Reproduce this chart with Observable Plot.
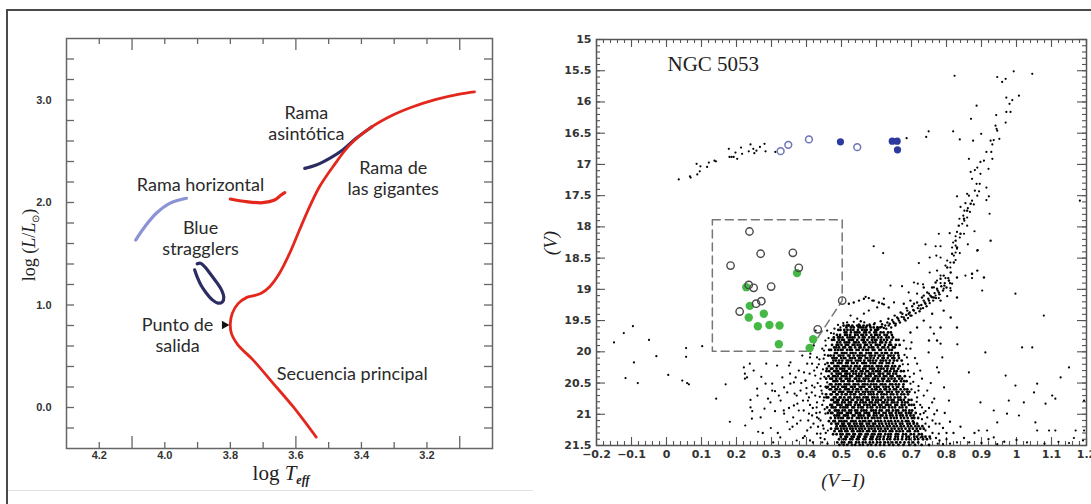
<!DOCTYPE html>
<html><head><meta charset="utf-8">
<script src="https://cdn.jsdelivr.net/npm/d3@7"></script>
<script src="https://cdn.jsdelivr.net/npm/@observablehq/plot@0.6"></script>
<style>
html,body{margin:0;padding:0;background:#fff;}
body{width:1091px;height:504px;position:relative;overflow:hidden;}
#hr{position:absolute;left:0;top:0;width:540px;height:504px;}
#cmd{position:absolute;left:540px;top:0;width:551px;height:504px;}
.rule{position:absolute;background:#4a4a4a;}
</style></head>
<body>
<div id="hr"></div><div id="cmd"></div>
<div class="rule" style="left:6px;top:9px;width:1085px;height:2px"></div>
<div class="rule" style="left:6px;top:9px;width:2px;height:495px"></div>
<div class="rule" style="left:8px;top:490px;width:525px;height:1px;background:#e2e2e2"></div>
<script>
// ================= LEFT PANEL (HR diagram) =================
const hrXLabels = [4.2, 4.0, 3.8, 3.6, 3.4, 3.2];
const hrYLabels = [0.0, 1.0, 2.0, 3.0];
const hrXShortTicks = [4.2, 4.0, 3.9, 3.8, 3.7, 3.5, 3.4, 3.3, 3.2];
const hrXLongTicks = [4.1, 3.6, 3.1];
const hrYTicks = [-0.2, 0, 0.2, 0.4, 0.6, 0.8, 1.0, 1.2, 1.4, 1.6, 1.8, 2.0, 2.2, 2.4, 2.6, 2.8, 3.0, 3.2, 3.4];

const rgLogT = [3.538,3.609,3.670,3.731,3.777,3.797,3.800,3.794,3.777,3.751,3.731,3.706,3.680,3.650,3.619,3.589,3.558,3.528,3.487,3.436,3.375,3.304,3.243,3.172,3.101,3.055];
const rgLogL = [-0.289,0.010,0.238,0.465,0.611,0.725,0.822,0.920,1.011,1.072,1.089,1.115,1.179,1.310,1.505,1.732,1.959,2.154,2.349,2.560,2.723,2.853,2.934,3.006,3.058,3.080];
const hbRedLogT = [3.800,3.751,3.701,3.665,3.645,3.634];
const hbRedLogL = [2.034,2.008,1.998,2.024,2.073,2.096];
const hbBlueLogT = [4.089,4.061,4.026,3.985,3.934];
const hbBlueLogL = [1.634,1.764,1.895,1.992,2.041];
const agbLogT = [3.573,3.538,3.497,3.457,3.416,3.368];
const agbLogL = [2.333,2.366,2.431,2.512,2.626,2.739];
const bsLogT = [3.909,3.901,3.889,3.873,3.855,3.838,3.824,3.820,3.826,3.840,3.858,3.877,3.891,3.901];
const bsLogL = [1.343,1.271,1.190,1.115,1.051,1.018,1.031,1.076,1.141,1.213,1.291,1.369,1.408,1.402];

const hrLabels = ["Rama\nasintótica", "Rama de\nlas gigantes", "Rama horizontal", "Blue\nstragglers", "Punto de\nsalida", "Secuencia principal"];
const hrLabelT = [3.568, 3.303, 3.891, 3.891, 3.961, 3.428];
const hrLabelL = [2.776, 2.244, 2.182, 1.659, 0.707, 0.329];
const turnoffT = [3.818];
const turnoffL = [0.805];

const RED = "#e4271d", NAVY = "#2b2c62", LIGHT = "#8b92d6";
const tickStyle = {stroke: "#666", strokeWidth: 1.3};

const hr = Plot.plot({
  width: 540, height: 504,
  marginLeft: 66, marginRight: 48, marginTop: 38, marginBottom: 56,
  style: {background: "none", fontFamily: "Liberation Sans", fontSize: "11px", color: "#333", overflow: "visible"},
  x: {domain: [4.3, 3.0]},
  y: {domain: [-0.4, 3.6]},
  marks: [
    Plot.ruleX(hrXShortTicks, {...tickStyle, insetTop: 404}),
    Plot.ruleX(hrXShortTicks, {...tickStyle, insetBottom: 404}),
    Plot.ruleX(hrXLongTicks, {...tickStyle, insetTop: 398}),
    Plot.ruleX(hrXLongTicks, {...tickStyle, insetBottom: 398}),
    Plot.ruleY(hrYTicks, {...tickStyle, insetRight: 418}),
    Plot.ruleY(hrYTicks, {...tickStyle, insetLeft: 418}),
    Plot.frame({stroke: "#666", strokeWidth: 1.5}),
    Plot.axisX(hrXLabels, {tickSize: 0, tickPadding: 3, tickFormat: d3.format(".1f"), fontWeight: "bold", fontSize: 11, fill: "#333", label: null}),
    Plot.axisY(hrYLabels, {tickSize: 0, tickPadding: 15, tickFormat: d3.format(".1f"), fontWeight: "bold", fontSize: 11, fill: "#333", label: null}),
    Plot.line({length: hbBlueLogT.length}, {x: hbBlueLogT, y: hbBlueLogL, stroke: LIGHT, strokeWidth: 3.2, curve: "catmull-rom"}),
    Plot.line({length: hbRedLogT.length}, {x: hbRedLogT, y: hbRedLogL, stroke: RED, strokeWidth: 3.2, curve: "catmull-rom"}),
    Plot.line({length: agbLogT.length}, {x: agbLogT, y: agbLogL, stroke: NAVY, strokeWidth: 3.2, curve: "catmull-rom"}),
    Plot.line({length: bsLogT.length}, {x: bsLogT, y: bsLogL, stroke: NAVY, strokeWidth: 3.2, curve: "catmull-rom"}),
    Plot.line({length: rgLogT.length}, {x: rgLogT, y: rgLogL, stroke: RED, strokeWidth: 2.8, curve: "catmull-rom"}),
    Plot.text(hrLabels, {x: hrLabelT, y: hrLabelL, text: d => d, fontFamily: "Lato", fontSize: 18, fill: "#2a2a2a", lineHeight: 1.16, lineAnchor: "middle", textAnchor: "middle", fontWeight: "normal"}),
    Plot.dot({length: 1}, {x: turnoffT, y: turnoffL, symbol: "triangle", rotate: 90, r: 3.2, fill: "#111", stroke: null})
  ]
});
document.getElementById("hr").appendChild(hr);

// ================= RIGHT PANEL (CMD of NGC 5053) =================
const cmdXLabels = [-0.2, -0.1, 0, 0.1, 0.2, 0.3, 0.4, 0.5, 0.6, 0.7, 0.8, 0.9, 1, 1.1, 1.2];
const cmdYLabels = [15, 15.5, 16, 16.5, 17, 17.5, 18, 18.5, 19, 19.5, 20, 20.5, 21, 21.5];
const cmdXMinorTicks = d3.range(-10, 61).map(i => i / 50);
const cmdXMajorTicks = d3.range(-2, 13).map(i => i / 10);
const cmdYMinorTicks = d3.range(150, 216).map(i => i / 10);
const cmdYMajorTicks = d3.range(30, 44).map(i => i / 2);

const hbDots = [[0.035,17.24],[0.067,17.19],[0.069,17.21],[0.088,17.16],[0.095,17.11],[0.086,16.99],[0.097,17.03],[0.116,17.04],[0.121,16.97],[0.137,16.94],[0.141,16.95],[0.178,16.75],[0.180,16.88],[0.186,16.88],[0.192,16.88],[0.197,16.81],[0.202,16.91],[0.213,16.73],[0.216,16.83],[0.235,16.79],[0.240,16.68],[0.248,16.75],[0.251,16.82],[0.257,16.78],[0.267,16.72],[0.280,16.67],[0.283,16.79],[0.311,16.80],[0.686,16.58]];
const hbOpenBlue = [[0.326,16.788],[0.348,16.686],[0.407,16.60],[0.545,16.724]];
const hbFilledBlue = [[0.497,16.638],[0.645,16.628],[0.659,16.628],[0.660,16.766]];
const bssOpen = [[0.237,18.074],[0.269,18.43],[0.361,18.415],[0.183,18.62],[0.378,18.655],[0.235,18.93],[0.249,18.975],[0.299,18.955],[0.271,19.19],[0.256,19.23],[0.209,19.355],[0.502,19.18],[0.432,19.64]];
const bssGreen = [[0.373,18.74],[0.228,18.965],[0.238,19.265],[0.278,19.39],[0.235,19.45],[0.261,19.59],[0.294,19.57],[0.323,19.58],[0.321,19.88],[0.419,19.80],[0.409,19.94]];
const boxVI = [0.131, 0.502, 0.502, 0.407, 0.131, 0.131];
const boxV  = [17.887, 17.887, 19.18, 19.99, 19.99, 17.887];

const rgbDots = [[0.823,15.58],[0.945,15.60],[0.969,15.63],[0.959,15.68],[0.992,15.51],[1.045,15.55],[0.971,15.93],[0.988,15.97],[1.007,15.90],[0.980,16.03],[0.886,16.06],[0.971,16.16],[0.983,16.16],[0.870,16.27],[0.942,16.21],[0.969,16.33],[0.940,16.38],[0.943,16.43],[0.945,16.46],[0.749,16.47],[0.742,16.56],[0.819,16.47],[0.838,16.60],[0.876,16.62],[0.899,16.51],[0.926,16.62],[0.935,16.61],[0.931,16.68],[0.951,16.59],[0.914,16.80],[0.928,16.80],[0.931,16.91],[0.920,17.07],[0.907,16.94],[0.897,16.96],[0.864,16.91],[0.869,17.12],[0.881,17.09],[0.888,17.05],[0.897,17.15],[0.873,17.23],[0.886,17.31],[0.895,17.31],[0.881,17.42],[0.893,17.43],[0.914,17.37],[0.859,17.47],[0.864,17.50],[0.830,17.51],[0.888,17.50],[0.921,17.51],[0.914,17.57],[0.873,17.58],[0.878,17.64],[0.854,17.62],[0.840,17.68],[0.861,17.70],[0.851,17.74],[0.867,17.76],[0.848,17.82],[0.923,17.79],[0.859,17.85],[0.837,17.87],[0.851,17.90],[0.845,17.95],[0.859,17.98],[0.880,18.07],[0.830,18.08],[0.850,18.11],[0.778,18.11],[0.809,18.10],[0.826,18.15],[0.838,18.17],[0.819,18.25],[0.826,18.30],[0.830,18.35],[0.816,18.33],[0.861,18.28],[0.889,18.37],[0.740,18.28],[0.769,18.31],[0.783,18.31],[0.619,18.42],[0.592,18.31],[0.826,18.41],[0.838,18.42],[0.821,18.46],[0.771,18.46],[0.783,18.49],[0.721,18.58],[0.752,18.49],[0.802,18.54],[0.811,18.57],[0.826,18.53],[0.797,18.62],[0.811,18.65],[0.773,18.70],[0.752,18.73],[0.854,18.78],[0.873,18.75],[0.873,18.82],[0.783,18.78],[0.797,18.82],[0.807,18.86],[0.773,18.86],[0.783,18.90],[0.816,18.91],[0.707,18.89],[0.718,18.91],[0.733,18.92],[0.764,18.97],[0.792,18.99],[0.811,18.98],[0.640,18.94],[0.673,18.95],[0.692,19.05],[0.716,19.07],[0.750,19.07],[0.759,19.13],[0.769,19.10],[0.778,19.14],[0.802,19.11],[0.902,19.02],[1.181,17.58]];
const sgbDots = [[0.783,18.83],[0.769,18.89],[0.792,18.78],[0.759,18.97],[0.773,18.99],[0.745,19.05],[0.754,19.10],[0.730,19.13],[0.735,19.18],[0.716,19.21],[0.721,19.26],[0.702,19.27],[0.707,19.34],[0.688,19.34],[0.692,19.39],[0.674,19.39],[0.678,19.45],[0.659,19.45],[0.664,19.50],[0.645,19.49],[0.650,19.54],[0.631,19.53],[0.635,19.58],[0.616,19.56],[0.621,19.62],[0.602,19.61],[0.697,19.42],[0.726,19.31],[0.740,19.23],[0.683,19.50],[0.654,19.58],[0.750,19.18],[0.764,19.13],[0.735,19.10],[0.707,19.23],[0.686,19.30],[0.669,19.37],[0.652,19.42],[0.634,19.47],[0.612,19.51],[0.593,19.56],[0.778,19.05],[0.794,18.94],[0.807,18.86],[0.812,18.73],[0.802,18.65],[0.821,18.57],[0.816,18.43],[0.830,18.33],[0.826,18.22],[0.840,18.11],[0.835,17.98],[0.850,17.87],[0.859,17.74],[0.869,17.63],[0.735,18.97],[0.783,19.18],[0.812,19.02],[0.830,19.13],[0.888,18.70],[0.907,18.81],[0.888,18.38],[0.926,18.22],[0.873,18.75],[0.830,18.81],[0.697,19.18],[0.678,19.23],[0.759,19.39],[0.792,19.34],[0.812,19.45],[0.783,19.61],[0.830,19.61],[0.750,19.82],[0.773,19.82],[0.735,19.50],[0.716,19.61],[0.697,19.69],[0.605,19.64],[0.615,19.60],[0.625,19.58],[0.628,19.63],[0.638,19.55],[0.642,19.61],[0.648,19.52],[0.655,19.55],[0.662,19.47],[0.667,19.53],[0.672,19.44],[0.680,19.48],[0.685,19.41],[0.690,19.46],[0.695,19.37],[0.700,19.42],[0.705,19.33],[0.712,19.38],[0.718,19.30],[0.723,19.35],[0.728,19.25],[0.733,19.30],[0.738,19.21],[0.743,19.27],[0.748,19.15],[0.752,19.22],[0.757,19.12],[0.762,19.18],[0.766,19.06],[0.770,19.14],[0.775,19.02],[0.780,19.08],[0.785,18.95],[0.790,19.02],[0.795,18.90],[0.800,18.97],[0.805,18.82],[0.810,18.90],[0.521,19.23],[0.535,19.21],[0.550,19.18],[0.564,19.15],[0.578,19.14],[0.592,19.18],[0.607,19.21],[0.621,19.24],[0.635,19.29],[0.555,19.51]];
const haloDots = [[0.354,20.17],[0.388,20.06],[0.378,20.30],[0.402,20.19],[0.409,20.35],[0.397,20.46],[0.416,20.54],[0.430,20.25],[0.440,20.43],[0.383,20.62],[0.407,20.73],[0.430,20.81],[0.445,20.67],[0.364,20.86],[0.392,20.94],[0.416,21.02],[0.440,21.10],[0.373,21.15],[0.402,21.26],[0.430,21.31],[0.449,21.23],[0.326,20.78],[0.335,20.94],[0.302,20.62],[0.269,21.05],[0.240,20.89],[0.230,20.41],[0.249,20.30],[0.283,20.51],[0.354,20.51],[0.369,20.41],[0.411,20.03],[0.430,20.09],[0.449,20.11],[0.421,19.90],[0.445,19.95],[0.454,19.82],[0.478,19.71],[0.459,19.66],[0.426,19.66],[0.497,19.61],[0.516,19.53],[0.545,19.47],[0.526,19.42],[0.564,19.39],[0.578,19.34],[0.602,19.29],[0.616,19.23],[0.588,19.18],[0.621,19.15],[0.650,19.21],[0.569,19.12],[0.678,19.82],[0.697,19.95],[0.687,20.09],[0.716,20.19],[0.707,20.35],[0.730,20.43],[0.697,20.51],[0.745,20.62],[0.716,20.73],[0.759,20.81],[0.730,20.89],[0.773,20.94],[0.745,21.05],[0.707,21.13],[0.769,21.15],[0.740,21.26],[0.778,21.31],[0.754,21.39],[0.726,21.37],[0.749,20.01],[0.764,19.71],[0.778,20.33],[0.754,19.61],[0.783,19.87],[0.440,20.55],[0.435,20.20],[0.425,20.38],[0.445,20.85],[0.438,20.97],[0.452,21.40],[0.445,21.45],[0.430,21.05],[0.418,20.90],[0.390,20.78],[0.400,20.58],[0.385,20.50],[0.372,20.70],[0.350,20.90],[0.360,21.20],[0.390,21.38],[0.410,21.42],[0.420,21.15],[0.345,20.65],[0.310,20.95],[0.290,20.75],[0.275,21.30],[0.318,21.30],[0.260,20.70],[0.690,20.30],[0.700,20.60],[0.720,20.55],[0.735,20.70],[0.710,20.90],[0.725,21.00],[0.740,20.95],[0.760,21.10],[0.765,20.75],[0.755,20.50],[0.710,20.10],[0.725,20.30],[0.685,19.95],[0.700,19.85],[0.675,20.20],[0.790,21.22],[0.800,21.40],[0.775,21.47],[0.820,21.30],[0.830,21.45],[0.850,21.38],[0.810,21.12],[0.795,20.98],[0.840,21.20],[0.865,21.45],[0.880,21.30],[0.900,21.46],[0.920,21.40],[0.945,21.48],[0.965,21.44],[0.452,20.05],[0.447,20.28],[0.451,20.40],[0.443,20.62],[0.449,20.78],[0.452,20.92],[0.447,21.18],[0.455,21.30],[0.460,21.47],[0.437,20.12],[0.432,20.50],[0.438,20.72],[0.428,20.98],[0.433,21.20],[0.440,21.38],[0.422,20.30],[0.415,20.65],[0.425,20.70],[0.410,20.85],[0.405,21.10],[0.455,19.90],[0.463,19.78],[0.470,19.70],[0.480,19.63],[0.490,19.57],[0.505,19.54],[0.520,19.57],[0.535,19.52],[0.550,19.56],[0.565,19.53],[0.580,19.56],[0.595,19.54],[0.458,20.58],[0.453,20.20],[0.680,20.05],[0.690,20.20],[0.695,20.40],[0.705,20.48],[0.710,20.65],[0.715,20.80],[0.725,20.85],[0.730,21.08],[0.740,21.15],[0.750,21.20],[0.760,21.30],[0.770,21.38],[0.780,21.42],[0.790,21.48],[0.735,20.98],[0.720,20.62],[0.750,20.90],[0.765,21.00],[0.780,21.15],[0.800,21.30],[0.810,21.47]];
const fieldDots = [[-0.150,19.85],[-0.122,19.70],[-0.096,19.59],[-0.093,20.17],[-0.117,20.42],[-0.082,20.50],[-0.050,19.81],[-0.029,20.07],[0.005,20.37],[0.045,20.46],[0.059,20.50],[0.064,20.52],[0.056,19.94],[0.056,20.08],[0.102,19.91],[0.142,20.75],[0.169,20.52],[0.181,21.12],[0.221,20.25],[0.224,20.35],[0.224,20.43],[0.238,20.19],[0.240,20.77],[0.245,20.95],[0.244,21.07],[0.259,20.59],[0.271,20.40],[0.280,20.91],[0.285,20.19],[0.297,20.81],[0.302,20.51],[0.310,20.63],[0.316,20.22],[0.321,20.70],[0.331,20.41],[0.336,20.57],[0.336,20.99],[0.350,20.22],[0.353,20.35],[0.364,20.49],[0.366,20.67],[0.374,20.83],[0.378,20.94],[0.383,21.10],[0.393,20.33],[0.397,20.46],[0.400,20.67],[0.404,20.78],[0.407,20.99],[0.412,21.21],[0.410,20.09],[0.416,20.19],[0.423,20.57],[0.429,20.89],[0.435,21.07],[0.440,21.31],[0.442,20.35],[0.450,19.98],[0.450,20.73],[0.454,20.99],[0.459,20.49],[0.461,21.26],[0.225,21.18],[0.262,21.28],[0.298,21.22],[0.325,21.37],[0.352,21.24],[0.372,21.42],[0.395,21.35],[0.418,21.45],[0.305,21.45],[0.345,21.12],[0.362,21.05],[0.773,20.25],[0.788,20.09],[0.793,20.57],[0.807,20.78],[0.831,19.88],[0.864,20.33],[0.897,20.81],[0.911,20.01],[0.935,20.94],[0.969,20.38],[0.978,20.78],[0.997,19.07],[0.997,20.54],[1.016,19.93],[1.021,20.81],[1.045,19.93],[1.050,20.65],[1.059,20.51],[1.078,19.42],[1.083,20.83],[1.102,20.70],[1.111,20.75],[1.126,20.41],[1.150,20.25],[1.193,20.78],[1.193,21.26],[0.892,21.26],[0.916,21.26],[0.945,21.13],[0.973,20.99],[1.007,21.02],[1.054,21.13],[1.059,21.26],[1.093,21.26],[1.111,21.26],[1.169,21.26],[0.935,21.37],[1.000,21.41],[1.164,21.38],[1.030,21.45],[1.080,21.47],[1.120,21.44],[1.150,21.46],[1.190,21.42]];
// dense turnoff / main-sequence cloud: V, then (V-I) x 1000 for the stars of that row
const cmdCoreRows = `
19.58 506 515 521 531 545 552 563 573 581
19.61 514 527 535 549 555 562 570 583 592 603 611
19.65 491 497 508 517 526 534 547 559 566 572 584 596 602
19.69 509 514 527 538 544 551 565 570 580 594 599 612 620 633 641
19.73 487 496 510 516 525 539 546 557 562 571 585 596 601 609 623 630 644
19.77 478 490 495 503 517 524 531 537 550 561 566 579 588 593 605 614 628 635 647
19.81 473 479 492 501 507 521 528 533 545 558 564 574 587 595 600 612 621 630 643 656 663
19.85 488 496 509 515 522 536 541 549 563 568 580 589 597 611 616 627 639
19.89 473 486 491 500 512 519 532 537 546 554 567 573 584 598 603 610 624 636 642 655 666
19.93 479 485 493 505 510 523 527 539 551 555 565 578 586 591 604 617 622 633 647 652
19.97 465 470 482 490 498 503 516 524 530 543 549 561 570 576 589 594 608 613 626 637 644
20.02 481 487 501 508 514 526 532 540 553 557 571 578 584 597 602 615 624 630 643 654 661
20.06 462 469 478 492 497 505 519 523 535 546 552 560 567 581 586 595 607 611 620 634 640 649 663
20.10 474 480 486 499 507 511 524 531 538 550 556 569 574 583 592 604 617 621 632 645 651 664
20.14 477 484 493 502 515 520 528 541 548 554 565 577 582 590 599 612 619 627 638 650 659 672
20.18 460 471 476 489 495 500 513 518 530 535 545 559 564 570 583 591 596 609 616 629 636 647
20.23 464 480 485 491 504 511 517 527 539 543 552 566 572 579 588 601 606 614 626 633 645 653 666
20.27 458 470 474 486 496 501 508 521 525 536 547 551 562 568 581 587 593 605 613 620 631 642 649 662
20.31 457 465 479 483 490 503 509 515 529 533 542 555 560 571 576 589 598 603 610 624 630 639 651 658 670 678
20.35 472 486 493 498 511 516 523 534 541 550 558 567 579 584 592 606 611 619 632 637 648 656
20.39 463 476 481 489 501 507 514 525 530 544 549 556 570 575 583 596 600 609 621 628 640 646 660 667 681
20.43 456 468 473 485 495 499 512 517 524 538 542 551 563 569 577 590 595 604 616 622 634 643 652 665 673
20.47 477 482 488 500 506 519 523 532 545 550 557 566 578 586 591 603 608 618 630 637 650 657 670 679 686
20.52 467 471 484 492 497 509 515 522 535 540 548 561 567 574 584 592 599 612 617 625 639 645 655 664 677
20.56 455 461 474 480 490 502 507 513 527 531 538 552 558 565 579 582 594 601 607 620 628 635 647 658 662 676
20.60 466 470 483 487 496 510 516 521 533 543 547 556 570 573 587 596 600 611 623 627 638 650 656 669 680 688
20.64 476 481 493 499 505 518 524 530 541 549 561 568 576 583 591 605 609 616 630 636 644 657 663 674 687 694
20.68 456 469 472 485 489 501 511 515 526 535 539 553 557 566 578 585 592 602 614 621 629 641 648 659 671 679 690
20.73 457 462 478 483 495 498 508 520 525 537 544 551 563 570 575 588 594 603 615 619 632 640 652 661 668 682
20.77 471 476 487 492 504 512 518 529 533 546 555 560 572 578 589 599 606 613 625 634 643 649 663 670 678 692 700
20.81 479 484 490 502 509 521 527 540 543 554 562 569 581 587 597 604 617 622 631 644 651 660 673 682 689
20.85 468 473 488 494 500 513 519 526 538 547 552 565 573 580 590 596 608 614 627 633 640 654 659 672 680 693 700 707
20.89 459 472 477 483 497 505 511 517 531 536 548 556 561 574 583 588 601 610 618 624 636 645 653 666 674 685
20.94 466 481 486 492 503 510 522 528 539 545 557 564 571 585 591 598 609 615 629 635 647 656 662 676 683 694 702
20.98 461 470 474 489 496 501 515 520 527 541 546 553 566 572 579 593 599 607 620 626 637 643 655 664 671 684 692 699 712
21.02 480 487 493 507 512 518 532 537 549 555 563 576 580 592 600 612 617 628 639 646 657 668 675 686 697 706
21.06 469 482 491 498 504 517 521 530 544 550 558 567 575 587 594 603 611 623 630 641 650 658 670 679 689 701 708 719
21.11 464 477 481 494 500 508 514 528 533 540 552 561 568 578 584 597 605 613 624 634 642 653 662 673 684 691 704
21.15 471 484 490 502 507 519 524 536 543 553 559 572 579 590 596 608 616 627 636 645 655 667 674 688 695 706 716
21.19 486 497 504 511 522 529 538 546 555 563 574 583 591 601 609 619 630 638 649 658 669 678 690 699 711 720 731
21.23 470 483 489 499 507 515 525 532 541 551 558 567 578 586 595 605 613 624 632 643 652 663 672 683 694 704 715 725 735
21.27 480 494 500 511 517 530 534 546 553 561 573 579 591 597 609 618 626 638 645 657 666 675 689 695 710 718
21.32 476 486 497 503 515 522 534 538 551 556 569 575 587 594 606 612 625 634 641 655 662 676 684 698 707 721 729
21.36 498 511 516 529 535 547 552 566 571 584 590 603 611 621 633 640 654 661 674 686 693 708 716 731 740 752
21.40 493 506 512 525 531 544 549 563 568 582 588 600 609 620 631 639 652 661 673 685 694 709 719 733 744
21.45 488 501 508 522 528 542 550 561 569 581 590 602 611 624 633 645 656 668 680 692 705 719
21.49 494 506 516 530 539 552 561 575 585 598 610 622 636 648 663 677 694 710 729 750
`;
const coreDots = [];
for (const line of cmdCoreRows.trim().split("\n")) {
  const [v, ...xs] = line.trim().split(/\s+/).map(Number);
  for (const x of xs) coreDots.push([x / 1000, v]);
}

const cmdTick = {stroke: "#555", strokeWidth: 1.1};
const cmd = Plot.plot({
  width: 551, height: 504,
  marginLeft: 56, marginRight: 5, marginTop: 39, marginBottom: 59,
  style: {background: "none", fontFamily: "DejaVu Sans", fontSize: "11px", color: "#333", overflow: "visible"},
  x: {domain: [-0.2, 1.2]},
  y: {domain: [21.5, 15]},
  marks: [
    Plot.ruleX(cmdXMinorTicks, {...cmdTick, insetTop: 402}),
    Plot.ruleX(cmdXMinorTicks, {...cmdTick, insetBottom: 402}),
    Plot.ruleX(cmdXMajorTicks, {...cmdTick, insetTop: 398}),
    Plot.ruleX(cmdXMajorTicks, {...cmdTick, insetBottom: 398}),
    Plot.ruleY(cmdYMinorTicks, {...cmdTick, insetRight: 486}),
    Plot.ruleY(cmdYMinorTicks, {...cmdTick, insetLeft: 486}),
    Plot.ruleY(cmdYMajorTicks, {...cmdTick, insetRight: 481}),
    Plot.ruleY(cmdYMajorTicks, {...cmdTick, insetLeft: 481}),
    Plot.frame({stroke: "#555", strokeWidth: 1.5}),
    Plot.axisX(cmdXLabels, {tickSize: 0, tickPadding: 5, tickFormat: d3.format("~g"), fontWeight: "bold", fontSize: 11, fill: "#333", label: null}),
    Plot.axisY(cmdYLabels, {tickSize: 0, tickPadding: 5, tickFormat: d3.format("~g"), fontWeight: "bold", fontSize: 11, fill: "#333", label: null}),
    Plot.line({length: boxVI.length}, {x: boxVI, y: boxV, stroke: "#777", strokeWidth: 1.5, strokeDasharray: "8,5"}),
    Plot.dot(coreDots, {x: d => d[0], y: d => d[1], r: 1.4, fill: "#000", stroke: null}),
    Plot.dot(haloDots, {x: d => d[0], y: d => d[1], r: 1.15, fill: "#000", stroke: null}),
    Plot.dot(fieldDots, {x: d => d[0], y: d => d[1], r: 1.1, fill: "#000", stroke: null}),
    Plot.dot(sgbDots, {x: d => d[0], y: d => d[1], r: 1.2, fill: "#000", stroke: null}),
    Plot.dot(rgbDots, {x: d => d[0], y: d => d[1], r: 1.1, fill: "#000", stroke: null}),
    Plot.dot(hbDots, {x: d => d[0], y: d => d[1], r: 1.1, fill: "#000", stroke: null}),
    Plot.dot(hbFilledBlue, {x: d => d[0], y: d => d[1], r: 3.6, fill: "#2b3a9e", stroke: null}),
    Plot.dot(hbOpenBlue, {x: d => d[0], y: d => d[1], r: 3.4, fill: "none", stroke: "#6d72b8", strokeWidth: 1.5}),
    Plot.dot(bssGreen, {x: d => d[0], y: d => d[1], r: 4.2, fill: "#45b845", stroke: null}),
    Plot.dot(bssOpen, {x: d => d[0], y: d => d[1], r: 3.7, fill: "none", stroke: "#4a4a4a", strokeWidth: 1.4}),
    Plot.text(["NGC 5053"], {frameAnchor: "top-left", dx: 71, dy: 25, text: d => d, textAnchor: "start", lineAnchor: "middle", fontFamily: "Liberation Serif", fontSize: 21, fill: "#222", fontWeight: "normal"})
  ]
});
document.getElementById("cmd").appendChild(cmd);

// ---------- axis titles (rich text) ----------
function richText(svg, x, y, rotate, size, family, parts) {
  const t = d3.select(svg).append("text")
    .attr("transform", `translate(${x},${y})` + (rotate ? ` rotate(${rotate})` : ""))
    .attr("text-anchor", "middle").attr("font-family", family).attr("font-size", size)
    .attr("fill", "#222");
  for (const p of parts) {
    const s = t.append("tspan").text(p.t);
    if (p.i) s.attr("font-style", "italic");
    if (p.b) s.attr("font-weight", "bold");
    if (p.size) s.attr("font-size", p.size);
    if (p.dy) s.attr("dy", p.dy);
  }
}
richText(hr, 281, 480, 0, 21, "Liberation Serif", [{t: "log "}, {t: "T", i: 1}, {t: "eff", i: 1, b: 1, size: 12, dy: 4}]);
richText(hr, 35, 245, -90, 18, "Liberation Serif", [{t: "log ("}, {t: "L", i: 1}, {t: "/"}, {t: "L", i: 1}, {t: "⊙", size: 10, dy: 4}, {t: ")", dy: -4}]);
richText(cmd, 17, 243, -90, 19, "Liberation Serif", [{t: "(V)", i: 1}]);
richText(cmd, 303, 487, 0, 19, "Liberation Serif", [{t: "(V−I)", i: 1}]);
</script>
</body></html>
